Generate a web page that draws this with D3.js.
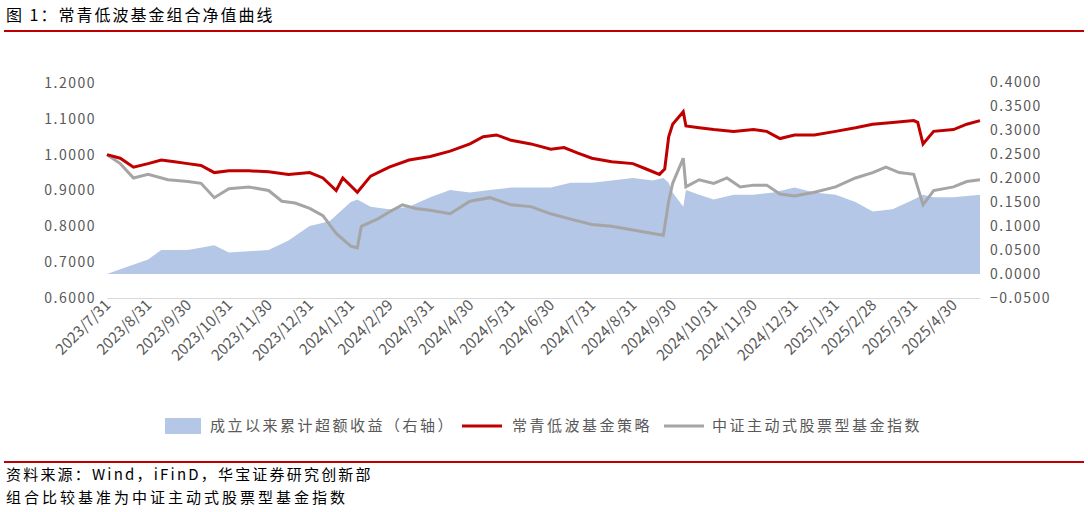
<!DOCTYPE html>
<html lang="zh">
<head>
<meta charset="utf-8" />
<title>常青低波基金组合净值曲线</title>
<style>
  body { margin: 0; background: #fff; }
  text { font-family: "Noto Sans CJK SC", "Noto Sans", sans-serif; }
</style>
<script src="https://d3js.org/d3.v7.min.js"></script>
</head>
<body>
<script>
// 数据
const navDates = ["2023-07-31","2023-08-10","2023-08-20","2023-08-31","2023-09-10","2023-09-20","2023-09-30","2023-10-10","2023-10-20","2023-10-31","2023-11-15","2023-11-30","2023-12-15","2023-12-31","2024-01-10","2024-01-20","2024-01-25","2024-02-05","2024-02-15","2024-02-29","2024-03-15","2024-03-31","2024-04-15","2024-04-30","2024-05-10","2024-05-20","2024-05-31","2024-06-15","2024-06-30","2024-07-10","2024-07-20","2024-07-31","2024-08-15","2024-08-31","2024-09-10","2024-09-20","2024-09-24","2024-09-27","2024-09-30","2024-10-08","2024-10-10","2024-10-20","2024-10-31","2024-11-15","2024-11-30","2024-12-10","2024-12-20","2024-12-31","2025-01-15","2025-01-31","2025-02-15","2025-02-28","2025-03-15","2025-03-31","2025-04-03","2025-04-07","2025-04-15","2025-04-30","2025-05-10","2025-05-20"];
const strategy = [1.000,0.990,0.965,0.975,0.985,0.980,0.975,0.970,0.950,0.955,0.955,0.952,0.945,0.950,0.935,0.900,0.935,0.895,0.940,0.965,0.985,0.995,1.010,1.030,1.050,1.055,1.040,1.030,1.015,1.020,1.005,0.990,0.980,0.975,0.960,0.945,0.960,1.050,1.085,1.120,1.080,1.075,1.070,1.065,1.070,1.065,1.045,1.055,1.055,1.065,1.075,1.085,1.090,1.095,1.090,1.030,1.065,1.070,1.085,1.095];

const indexDates = ["2023-07-31","2023-08-10","2023-08-20","2023-08-31","2023-09-15","2023-09-30","2023-10-10","2023-10-20","2023-10-31","2023-11-15","2023-11-30","2023-12-10","2023-12-20","2023-12-31","2024-01-10","2024-01-20","2024-01-31","2024-02-05","2024-02-08","2024-02-20","2024-02-29","2024-03-10","2024-03-20","2024-03-31","2024-04-15","2024-04-30","2024-05-15","2024-05-31","2024-06-15","2024-06-30","2024-07-15","2024-07-31","2024-08-15","2024-08-31","2024-09-15","2024-09-23","2024-09-27","2024-09-30","2024-10-08","2024-10-10","2024-10-20","2024-10-31","2024-11-10","2024-11-20","2024-11-30","2024-12-10","2024-12-20","2024-12-31","2025-01-15","2025-01-31","2025-02-15","2025-02-28","2025-03-10","2025-03-20","2025-03-31","2025-04-07","2025-04-15","2025-04-30","2025-05-10","2025-05-20"];
const fundIndex = [1.000,0.975,0.935,0.945,0.930,0.925,0.920,0.880,0.905,0.910,0.900,0.870,0.865,0.850,0.830,0.780,0.745,0.740,0.800,0.820,0.840,0.860,0.850,0.845,0.835,0.870,0.880,0.860,0.855,0.835,0.820,0.805,0.800,0.790,0.780,0.775,0.870,0.920,0.990,0.910,0.930,0.920,0.935,0.910,0.915,0.915,0.890,0.885,0.895,0.910,0.935,0.950,0.965,0.950,0.945,0.860,0.900,0.910,0.925,0.930];

const excessDates = ["2023-07-31","2023-08-10","2023-08-31","2023-09-10","2023-09-30","2023-10-20","2023-10-31","2023-11-30","2023-12-15","2023-12-31","2024-01-15","2024-01-31","2024-02-05","2024-02-15","2024-02-29","2024-03-15","2024-03-31","2024-04-15","2024-04-30","2024-05-15","2024-05-31","2024-06-15","2024-06-30","2024-07-15","2024-07-31","2024-08-15","2024-08-31","2024-09-15","2024-09-23","2024-09-27","2024-09-30","2024-10-08","2024-10-10","2024-10-20","2024-10-31","2024-11-15","2024-11-30","2024-12-15","2024-12-31","2025-01-15","2025-01-31","2025-02-15","2025-02-28","2025-03-15","2025-03-31","2025-04-07","2025-04-15","2025-04-30","2025-05-20"];
const excess = [0.000,0.010,0.030,0.050,0.050,0.060,0.045,0.050,0.070,0.100,0.110,0.150,0.155,0.140,0.135,0.140,0.160,0.175,0.170,0.175,0.180,0.180,0.180,0.190,0.190,0.195,0.200,0.195,0.200,0.190,0.170,0.140,0.175,0.165,0.155,0.165,0.165,0.170,0.180,0.170,0.165,0.150,0.130,0.135,0.155,0.165,0.160,0.160,0.165];

const xTickLabels = ["2023/7/31","2023/8/31","2023/9/30","2023/10/31","2023/11/30","2023/12/31","2024/1/31","2024/2/29","2024/3/31","2024/4/30","2024/5/31","2024/6/30","2024/7/31","2024/8/31","2024/9/30","2024/10/31","2024/11/30","2024/12/31","2025/1/31","2025/2/28","2025/3/31","2025/4/30"];
const leftTicks = [0.6,0.7,0.8,0.9,1.0,1.1,1.2];
const rightTicks = [-0.05,0,0.05,0.1,0.15,0.2,0.25,0.3,0.35,0.4];

const W = 1088, H = 512;
const parse = d3.timeParse("%Y-%m-%d");
const parseTick = d3.timeParse("%Y/%m/%d");

const svg = d3.select("body").append("svg").attr("width", W).attr("height", H);

// 标题
svg.append("text").attr("x", 6).attr("y", 21).attr("font-size", 16).attr("letter-spacing", 2).attr("fill", "#000")
  .text("图 1：常青低波基金组合净值曲线");
svg.append("line").attr("x1", 4).attr("x2", 1084).attr("y1", 31).attr("y2", 31)
  .attr("stroke", "#c00000").attr("stroke-width", 2);

// scales
const x = d3.scaleTime()
  .domain([parse("2023-07-31"), parse("2025-05-20")])
  .range([107, 980]);
const yL = d3.scaleLinear().domain([0.6, 1.2]).range([298, 83]);
const yR = d3.scaleLinear().domain([-0.05, 0.4]).range([298, 82]);

// area
const areaData = excessDates.map((d, i) => ({d: parse(d), v: excess[i]}));
svg.append("path").datum(areaData)
  .attr("fill", "#b4c7e7")
  .attr("d", d3.area().x(p => x(p.d)).y0(yR(0)).y1(p => yR(p.v)));

// lines
const grayData = indexDates.map((d, i) => ({d: parse(d), v: fundIndex[i]}));
const redData = navDates.map((d, i) => ({d: parse(d), v: strategy[i]}));
const line = d3.line().x(p => x(p.d)).y(p => yL(p.v));
svg.append("path").datum(grayData).attr("fill", "none")
  .attr("stroke", "#a5a5a5").attr("stroke-width", 3).attr("d", line);
svg.append("path").datum(redData).attr("fill", "none")
  .attr("stroke", "#c00000").attr("stroke-width", 3).attr("d", line);

// axes
const axL = svg.append("g").attr("transform", "translate(104,0)")
  .call(d3.axisLeft(yL).tickValues(leftTicks).tickSize(0).tickPadding(8).tickFormat(d3.format(".4f")));
const axR = svg.append("g").attr("transform", "translate(982,0)")
  .call(d3.axisRight(yR).tickValues(rightTicks).tickSize(0).tickPadding(8).tickFormat(d3.format(".4f")));
[axL, axR].forEach(a => {
  a.select(".domain").remove();
  a.selectAll("text").attr("font-size", 14).attr("fill", "#595959").attr("letter-spacing", 1.5);
});

const axX = svg.append("g").attr("transform", "translate(0,298)")
  .call(d3.axisBottom(x).tickValues(xTickLabels.map(t => parseTick(t))).tickSize(0)
    .tickFormat(d3.timeFormat("%Y/%-m/%-d")));
axX.select(".domain").attr("stroke", "#d9d9d9");
axX.selectAll("text").attr("font-size", 15).attr("fill", "#595959")
  .attr("text-anchor", "end").attr("dx", 0).attr("dy", 0)
  .attr("transform", "translate(2,6) rotate(-45)");

// legend
const lg = svg.append("g").attr("font-size", 15).attr("letter-spacing", 2.5).attr("fill", "#595959");
lg.append("rect").attr("x", 165).attr("y", 418).attr("width", 36).attr("height", 16).attr("fill", "#b4c7e7");
lg.append("text").attr("x", 210).attr("y", 431).text("成立以来累计超额收益（右轴）");
lg.append("line").attr("x1", 462).attr("x2", 502).attr("y1", 426).attr("y2", 426).attr("stroke", "#c00000").attr("stroke-width", 3);
lg.append("text").attr("x", 512).attr("y", 431).text("常青低波基金策略");
lg.append("line").attr("x1", 664).attr("x2", 704).attr("y1", 426).attr("y2", 426).attr("stroke", "#a5a5a5").attr("stroke-width", 3);
lg.append("text").attr("x", 712).attr("y", 431).text("中证主动式股票型基金指数");

// 底部
svg.append("line").attr("x1", 4).attr("x2", 1084).attr("y1", 462).attr("y2", 462)
  .attr("stroke", "#c00000").attr("stroke-width", 2);
svg.append("text").attr("x", 6).attr("y", 480).attr("font-size", 15).attr("letter-spacing", 2.2).attr("fill", "#000")
  .text("资料来源：Wind，iFinD，华宝证券研究创新部");
svg.append("text").attr("x", 6).attr("y", 503).attr("font-size", 15).attr("letter-spacing", 3).attr("fill", "#000")
  .text("组合比较基准为中证主动式股票型基金指数");
</script>
</body>
</html>
